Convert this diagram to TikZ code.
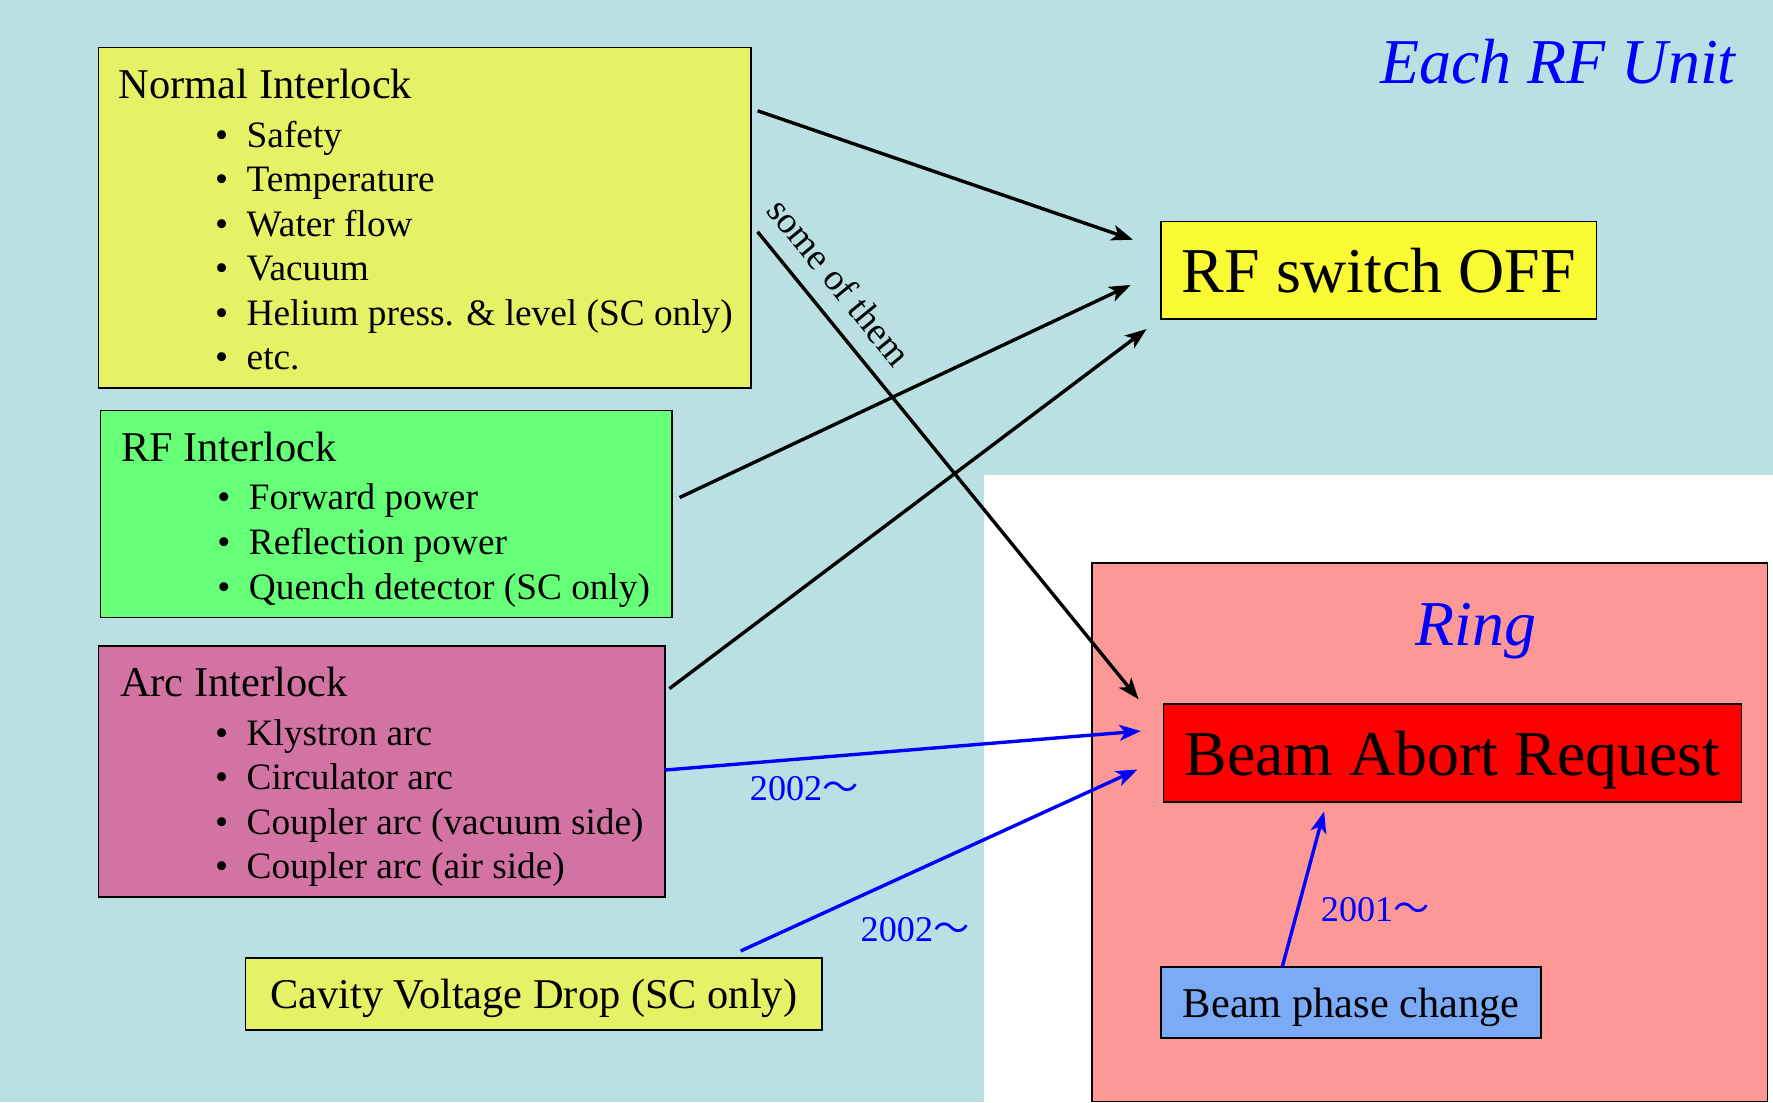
\documentclass[tikz,border=0pt]{standalone}
\usepackage{fontspec}
\setmainfont{Liberation Serif}
\newfontfamily\cjk{Noto Sans CJK JP}
\usepackage{tikz}
\usetikzlibrary{arrows.meta}
\usepackage{xcolor}
\definecolor{unitbg}{RGB}{186,224,227}
\definecolor{normalfill}{RGB}{229,242,102}
\definecolor{rffill}{RGB}{102,255,120}
\definecolor{arcfill}{RGB}{211,115,163}
\definecolor{offfill}{RGB}{249,249,52}
\definecolor{ringfill}{RGB}{252,153,150}
\definecolor{abortfill}{RGB}{255,0,0}
\definecolor{phasefill}{RGB}{123,170,247}
\definecolor{pureblue}{RGB}{0,0,255}

\begin{document}
\begin{tikzpicture}[x=1pt,y=-1pt,
  box/.style={draw=black,line width=1.5pt,inner sep=0pt,outer sep=0pt},
  title/.style={anchor=base west,inner sep=0pt,font=\fontsize{37.5}{45}\selectfont},
  item/.style={anchor=base west,inner sep=0pt,font=\fontsize{33}{40}\selectfont},
  big/.style={font=\fontsize{56.5}{64}\selectfont,text depth=0pt},
  mid/.style={font=\fontsize{37.5}{45}\selectfont,text depth=0pt},
  head/.style={inner sep=0pt,text=pureblue,font=\fontsize{56.5}{64}\selectfont\itshape},
  note/.style={anchor=base west,inner sep=0pt,text=pureblue,font=\fontsize{32}{38}\selectfont},
  link/.style={line width=3pt,-{Stealth[length=19pt,width=14pt,inset=5pt]}},
]
\useasboundingbox (0,0) rectangle (1568,975);
\fill[unitbg] (0,0) rectangle (1568,975);
\fill[white] (870,420) rectangle (1568,975);

% interlock boxes
\node[box,fill=normalfill,minimum width=577pt,minimum height=301pt] (normal) at (375.5,192.5) {};
\node[box,fill=rffill,minimum width=505pt,minimum height=183pt] (rfint) at (341.5,454.5) {};
\node[box,fill=arcfill,minimum width=501pt,minimum height=222pt] (arc) at (337.5,682) {};
\node[box,fill=normalfill,minimum width=510pt,minimum height=64pt,mid] (cavity) at (472,879) {Cavity Voltage Drop (SC only)};

\node[title] (normaltitle) at (105,87) {Normal Interlock};
\foreach \txt [count=\i] in {Safety,Temperature,Water flow,Vacuum,Helium press. \& level (SC only),etc.}
  \node[item] (normal-\i) at (190,{130+39.4*(\i-1)}) {\makebox[28pt][l]{\textbullet}\txt};
\node[title] (rftitle) at (107,408) {RF Interlock};
\foreach \txt [count=\i] in {Forward power,Reflection power,Quench detector (SC only)}
  \node[item] (rf-\i) at (192,{451+39.5*(\i-1)}) {\makebox[28pt][l]{\textbullet}\txt};
\node[title] (arctitle) at (106,616) {Arc Interlock};
\foreach \txt [count=\i] in {Klystron arc,Circulator arc,Coupler arc (vacuum side),Coupler arc (air side)}
  \node[item] (arc-\i) at (190,{659+39.3*(\i-1)}) {\makebox[28pt][l]{\textbullet}\txt};

% outputs
\node[box,fill=offfill,minimum width=385pt,minimum height=86pt,big] (rfoff) at (1219.5,239) {RF switch OFF};
\node[box,fill=ringfill,minimum width=597pt,minimum height=476pt] (ring) at (1264.5,736) {};
\node[box,fill=abortfill,minimum width=511pt,minimum height=87pt,big] (abort) at (1284.5,666) {Beam Abort Request};
\node[box,fill=phasefill,minimum width=336pt,minimum height=63pt,mid] (phase) at (1195,886.5) {Beam phase change};

\node[head,anchor=base east] (unitlabel) at (1535,73.5) {Each RF Unit};
\node[head,anchor=base] (ringlabel) at (1305,571) {Ring};

% connectors
\draw[link] ([shift={(6,56)}]normal.north east) -- ([shift={(-25,-27)}]rfoff.west);
\draw[link] ([shift={(6,163)}]normal.north east) -- node[sloped,above=15pt,pos=0.15,inner sep=0pt,font=\fontsize{33}{40}\selectfont] (some) {some of them} ([shift={(-22,-4)}]abort.north west);
\draw[link] ([shift={(7,77)}]rfint.north east) -- ([shift={(-27,13)}]rfoff.west);
\draw[link] ([shift={(4,38)}]arc.north east) -- ([shift={(-13,9)}]rfoff.south west);
\draw[link,pureblue] ([shift={(0,110)}]arc.north east) -- ([shift={(-20,24)}]abort.north west);
\draw[link,pureblue] ([shift={(183,-6)}]cavity.north) -- ([shift={(-23,58)}]abort.north west);
\draw[link,pureblue] ([shift={(-61,0)}]phase.north) -- ([shift={(-113.5,8)}]abort.south);

\node[note] (year1) at (663,708) {2002{\cjk 〜}};
\node[note] (year2) at (761,833) {2002{\cjk 〜}};
\node[note] (year3) at (1168,815) {2001{\cjk 〜}};
\end{tikzpicture}
\end{document}
